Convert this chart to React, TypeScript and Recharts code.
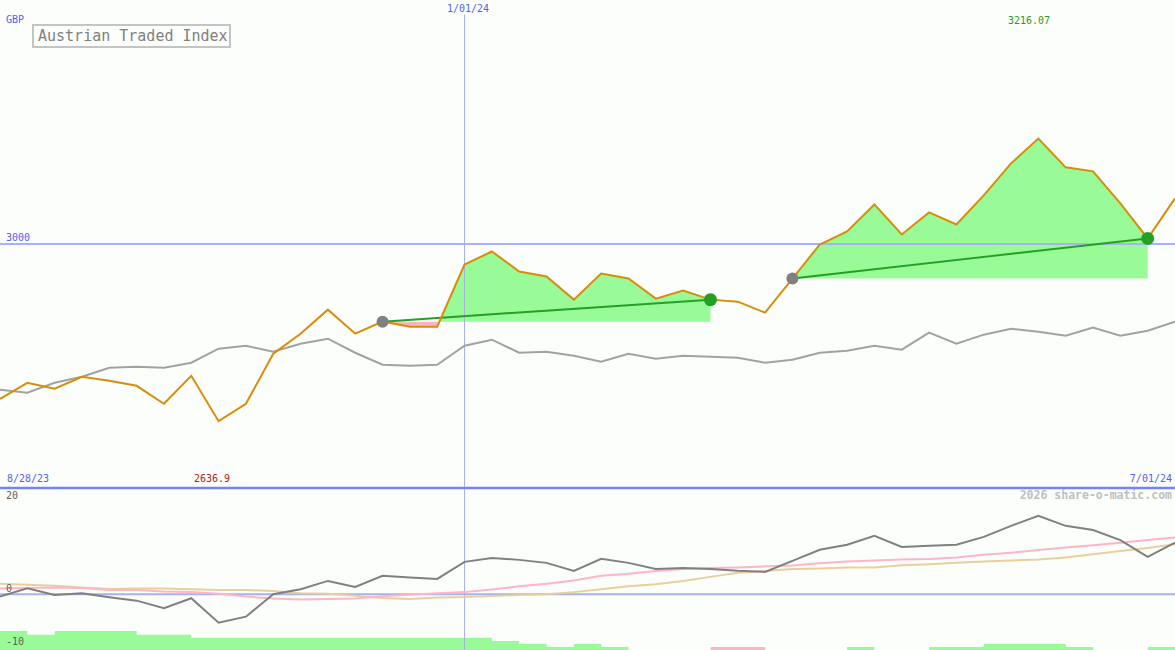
import React from "react"
import {
  Area,
  ComposedChart,
  Line,
  ReferenceDot,
  ReferenceLine,
  XAxis,
  YAxis,
} from "recharts"

// weekly closes, 9/04/23 .. 7/01/24
const weeks = [
  "9/04/23", "9/11/23", "9/18/23", "9/25/23", "10/02/23", "10/09/23", "10/16/23", "10/23/23",
  "10/30/23", "11/06/23", "11/13/23", "11/20/23", "11/27/23", "12/04/23", "12/11/23", "12/18/23",
  "12/25/23", "1/01/24", "1/08/24", "1/15/24", "1/22/24", "1/29/24", "2/05/24", "2/12/24",
  "2/19/24", "2/26/24", "3/04/24", "3/11/24", "3/18/24", "3/25/24", "4/01/24", "4/08/24",
  "4/15/24", "4/22/24", "4/29/24", "5/06/24", "5/13/24", "5/20/24", "5/27/24", "6/03/24",
  "6/10/24", "6/17/24", "6/24/24", "7/01/24",
]

const price = [
  2682.7, 2715.6, 2703.3, 2727.9, 2719.7, 2709.4, 2672.5, 2730.0, 2636.9, 2672.5,
  2775.1, 2816.2, 2865.5, 2816.2, 2840.9, 2830.6, 2830.6, 2957.9, 2984.6, 2943.5,
  2933.3, 2886.0, 2939.4, 2929.2, 2888.1, 2904.5, 2886.0, 2881.9, 2859.3, 2929.2,
  2999.0, 3025.7, 3081.1, 3019.5, 3064.7, 3040.0, 3099.6, 3165.3, 3216.07, 3157.1,
  3148.9, 3083.2, 3011.3, 3093.4,
]

// comparison line (grey), on the price scale
const relative = [
  2701.2, 2695.1, 2715.6, 2727.9, 2746.4, 2748.5, 2746.4, 2756.7, 2785.4, 2791.6,
  2779.3, 2795.7, 2805.9, 2777.2, 2752.6, 2750.5, 2752.6, 2791.6, 2803.9, 2777.2,
  2779.3, 2771.1, 2758.7, 2775.1, 2764.9, 2771.1, 2769.0, 2766.9, 2756.7, 2762.8,
  2777.2, 2781.3, 2791.6, 2783.4, 2818.3, 2795.7, 2814.2, 2826.5, 2820.3, 2812.1,
  2828.6, 2812.1, 2822.4, 2840.9,
]

// start / end week index of each trend run
const trendRuns = [
  [14, 26],
  [29, 42],
]

const momentum = [
  -0.46, 1.14, -0.13, 0.19, -0.57, -1.22, -2.67, -0.76, -5.4, -4.27,
  0.0, 0.95, 2.53, 1.39, 3.49, 3.2, 2.9, 6.15, 6.9, 6.53,
  5.96, 4.44, 6.72, 5.96, 4.8, 5.0, 4.8, 4.44, 4.25, 6.34,
  8.44, 9.4, 11.1, 9.0, 9.2, 9.4, 10.9, 13.0, 14.9, 13.0,
  12.2, 10.3, 7.1, 9.8,
]

const fastAvg = [
  1.1, 1.2, 1.3, 1.2, 0.8, 0.8, 0.5, 0.4, 0.1, -0.45,
  -0.8, -1.0, -0.9, -0.8, -0.4, -0.1, 0.2, 0.4, 0.9, 1.5,
  2.0, 2.6, 3.5, 3.9, 4.4, 4.8, 5.0, 5.1, 5.3, 5.45,
  5.9, 6.2, 6.4, 6.6, 6.7, 7.0, 7.5, 7.9, 8.4, 8.9,
  9.3, 9.8, 10.3, 10.8,
]

const slowAvg = [
  2.0, 1.8, 1.6, 1.3, 1.0, 1.1, 1.1, 0.95, 0.8, 0.8,
  0.6, 0.2, 0.1, -0.3, -0.7, -0.9, -0.6, -0.55, -0.35, -0.15,
  0.0, 0.4, 0.95, 1.5, 1.9, 2.5, 3.3, 4.1, 4.4, 4.8,
  4.9, 5.1, 5.1, 5.5, 5.7, 6.0, 6.2, 6.4, 6.6, 7.0,
  7.6, 8.2, 8.8, 9.5,
]

// signed weekly strength bars (negative drawn pink)
const strength = [
  3.6, 2.9, 3.6, 3.6, 3.6, 2.9, 2.9, 2.35, 2.35, 2.35,
  2.35, 2.35, 2.35, 2.35, 2.35, 2.35, 2.35, 2.35, 1.7, 1.15,
  0.57, 1.15, 0.57, 0, 0, 0, -0.57, -0.57, 0, 0,
  0, 0.57, 0, 0, 0.57, 0.57, 1.15, 1.15, 1.15, 0.57,
  0, 0, 0.57, 0.57,
]

const W = 1175
const UPPER_DOMAIN = [2500, 3500]
const LOWER_DOMAIN = [-10.6, 20]
const MONO = '"DejaVu Sans Mono", "Liberation Mono", monospace'

const upperData = weeks.map((week, i) => {
  const row: Record<string, unknown> = { week, price: price[i], relative: relative[i] }
  trendRuns.forEach(([a, b], k) => {
    if (i >= a && i <= b) row[`band${k}`] = [price[a], price[i]]
    if (i === a || i === b) row[`trend${k}`] = price[i]
  })
  return row
})

const lowerData = weeks.map((week, i) => ({
  week,
  momentum: momentum[i],
  fastAvg: fastAvg[i],
  slowAvg: slowAvg[i],
  up: [LOWER_DOMAIN[0], LOWER_DOMAIN[0] + Math.max(strength[i], 0)],
  down: [LOWER_DOMAIN[0], LOWER_DOMAIN[0] + Math.max(-strength[i], 0)],
}))

// where the start level sits inside each band's bounding box
const bandSplit = trendRuns.map(([a, b]) => {
  const vals = price.slice(a, b + 1)
  const hi = Math.max(...vals)
  const lo = Math.min(...vals)
  return hi === lo ? 1 : (hi - price[a]) / (hi - lo)
})

function Label({
  x,
  y,
  color,
  size = 10,
  align = "left",
  bold = false,
  children,
}: {
  x: number
  y: number
  color: string
  size?: number
  align?: "left" | "right"
  bold?: boolean
  children: React.ReactNode
}) {
  return (
    <div
      style={{
        position: "absolute",
        top: y,
        ...(align === "left" ? { left: x } : { right: W - x }),
        transform: "translateY(-50%)",
        fontFamily: MONO,
        fontSize: size,
        fontWeight: bold ? 700 : 400,
        lineHeight: 1,
        color,
        whiteSpace: "nowrap",
      }}
    >
      {children}
    </div>
  )
}

export default function App() {
  return (
    <div
      style={{
        position: "absolute",
        left: 0,
        top: 0,
        width: W,
        height: 650,
        background: "#fbfefb",
        overflow: "hidden",
      }}
    >
      <div style={{ position: "absolute", left: 0, top: 0 }}>
        <ComposedChart
          width={W}
          height={490}
          data={upperData}
          margin={{ top: 0, right: 0, bottom: 2, left: 0 }}
        >
          <defs>
            {bandSplit.map((s, k) => (
              <linearGradient key={k} id={`band-${k}`} x1="0" y1="0" x2="0" y2="1">
                <stop offset={s} stopColor="#98fb98" />
                <stop offset={s} stopColor="#ffb6c1" />
              </linearGradient>
            ))}
          </defs>
          <XAxis dataKey="week" hide scale="point" padding={{ left: 0, right: 0 }} />
          <YAxis hide domain={UPPER_DOMAIN} allowDataOverflow />
          <ReferenceLine y={3000} stroke="#a6b2f2" strokeWidth={2} />
          <ReferenceLine
            segment={[
              { x: "1/01/24", y: 3470 },
              { x: "1/01/24", y: 2500 },
            ]}
            stroke="#a8b0e4"
            strokeWidth={1}
          />
          <ReferenceLine y={2500} stroke="#7484f0" strokeWidth={2.5} />
          {trendRuns.map((_, k) => (
            <Area
              key={`band${k}`}
              dataKey={`band${k}`}
              type="linear"
              stroke="none"
              fill={`url(#band-${k})`}
              fillOpacity={1}
              activeDot={false}
              isAnimationActive={false}
            />
          ))}
          <Line
            dataKey="relative"
            type="linear"
            stroke="#a2a2a2"
            strokeWidth={2}
            dot={false}
            activeDot={false}
            isAnimationActive={false}
          />
          {trendRuns.map((_, k) => (
            <Line
              key={`trend${k}`}
              dataKey={`trend${k}`}
              type="linear"
              connectNulls
              stroke="#24a024"
              strokeWidth={2}
              dot={false}
              activeDot={false}
              isAnimationActive={false}
            />
          ))}
          <Line
            dataKey="price"
            type="linear"
            stroke="#d98c0a"
            strokeWidth={2}
            dot={false}
            activeDot={false}
            isAnimationActive={false}
          />
          {trendRuns.map(([a, b]) => [
            <ReferenceDot
              key={`s${a}`}
              x={weeks[a]}
              y={price[a]}
              r={6}
              fill="#808080"
              stroke="none"
            />,
            <ReferenceDot
              key={`e${b}`}
              x={weeks[b]}
              y={price[b]}
              r={6.5}
              fill="#24a024"
              stroke="none"
            />,
          ])}
        </ComposedChart>
      </div>

      <div style={{ position: "absolute", left: 0, top: 489 }}>
        <ComposedChart
          width={W}
          height={161}
          data={lowerData}
          margin={{ top: 0, right: 0, bottom: 0, left: 0 }}
        >
          <XAxis dataKey="week" hide scale="point" padding={{ left: 0, right: 0 }} />
          <YAxis hide domain={LOWER_DOMAIN} allowDataOverflow />
          <Area
            dataKey="up"
            type="stepAfter"
            stroke="none"
            fill="#98fb98"
            fillOpacity={1}
            activeDot={false}
            isAnimationActive={false}
          />
          <Area
            dataKey="down"
            type="stepAfter"
            stroke="none"
            fill="#ffb6c1"
            fillOpacity={1}
            activeDot={false}
            isAnimationActive={false}
          />
          <ReferenceLine x="1/01/24" stroke="#a8b0e4" strokeWidth={1} />
          <ReferenceLine y={0} stroke="#a6b2f2" strokeWidth={2} />
          <Line
            dataKey="slowAvg"
            type="linear"
            stroke="#e6d09e"
            strokeWidth={2}
            dot={false}
            activeDot={false}
            isAnimationActive={false}
          />
          <Line
            dataKey="fastAvg"
            type="linear"
            stroke="#ffb4c8"
            strokeWidth={2}
            dot={false}
            activeDot={false}
            isAnimationActive={false}
          />
          <Line
            dataKey="momentum"
            type="linear"
            stroke="#808080"
            strokeWidth={2}
            dot={false}
            activeDot={false}
            isAnimationActive={false}
          />
        </ComposedChart>
      </div>

      <Label x={6} y={20} color="#5560f0">GBP</Label>
      <div
        style={{
          position: "absolute",
          left: 32,
          top: 24,
          width: 191,
          height: 20,
          border: "2px solid #c4c4c4",
          fontFamily: MONO,
          fontSize: 15,
          lineHeight: "20px",
          color: "#808080",
          paddingLeft: 4,
          boxSizing: "content-box",
          whiteSpace: "nowrap",
        }}
      >
        Austrian Traded Index
      </div>
      <Label x={447} y={9} color="#5560f0">1/01/24</Label>
      <Label x={1008} y={21} color="#2a9a2a">3216.07</Label>
      <Label x={6} y={238} color="#5560f0">3000</Label>
      <Label x={7} y={479} color="#5560f0">8/28/23</Label>
      <Label x={194} y={479} color="#b02020">2636.9</Label>
      <Label x={1172} y={479} color="#5560f0" align="right">7/01/24</Label>
      <Label x={1172} y={496} color="#c0c0c0" size={11.5} bold align="right">
        2026 share-o-matic.com
      </Label>
      <Label x={6} y={496} color="#606060">20</Label>
      <Label x={6} y={589} color="#606060">0</Label>
      <Label x={6} y={642} color="#606060">-10</Label>
    </div>
  )
}
